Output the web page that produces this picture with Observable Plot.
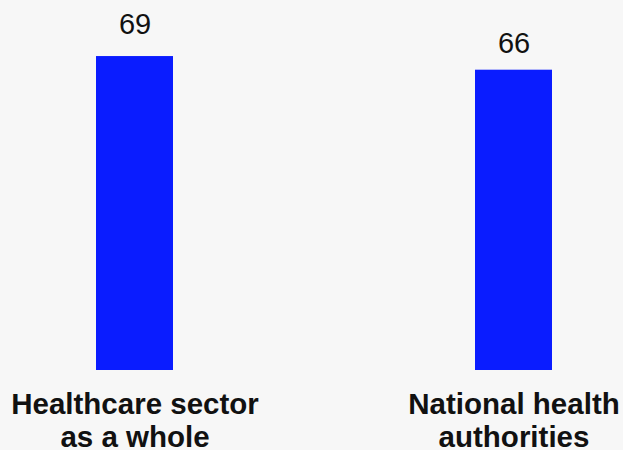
<!DOCTYPE html>
<html>
<head>
<meta charset="utf-8">
<script src="https://cdn.jsdelivr.net/npm/d3@7"></script>
<script src="https://cdn.jsdelivr.net/npm/@observablehq/plot@0.6"></script>
<style>
  html, body { margin: 0; padding: 0; background: #f7f7f7; }
  #chart svg { display: block; }
</style>
</head>
<body>
<div id="chart"></div>
<script>
const categories = ["Healthcare sector\nas a whole", "National health\nauthorities"];
const values = [69, 66];

const data = categories.map((c, i) => ({category: c, value: values[i]}));

const labelStyle = {x: "category", y: "value", text: d => String(d.value),
  lineAnchor: "bottom", fontSize: 29, fill: "#111"};

const chart = Plot.plot({
  width: 623,
  height: 450,
  marginTop: 6,
  marginBottom: 80,
  marginLeft: 95,
  marginRight: 71,
  style: {background: "#f7f7f7", fontFamily: "'Liberation Sans', Arial, sans-serif", overflow: "visible"},
  x: {domain: categories, paddingInner: 0.797, paddingOuter: 0, label: null},
  y: {domain: [0, 80], axis: null},
  marks: [
    Plot.barY(data, {x: "category", y: "value", fill: "#0a1cff"}),
    Plot.text(data.slice(0, 1), {...labelStyle, dy: -23}),
    Plot.text(data.slice(1), {...labelStyle, dy: -17}),
    Plot.axisX({
      tickSize: 0, tickPadding: 20, fontSize: 29.5, fontWeight: "bold",
      lineHeight: 1.12, fill: "#111", label: null
    })
  ]
});
document.getElementById("chart").appendChild(chart);
</script>
</body>
</html>
